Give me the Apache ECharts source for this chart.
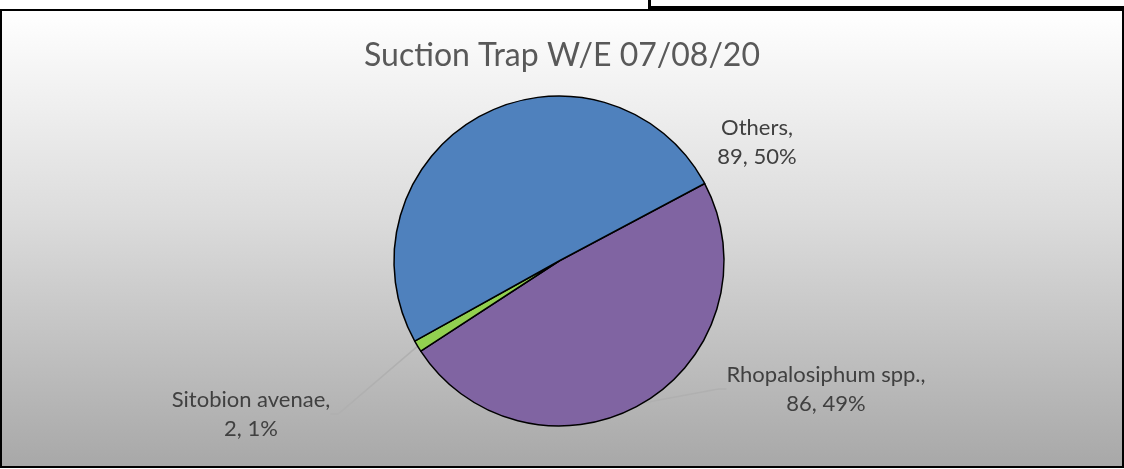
<!DOCTYPE html>
<html>
<head>
<meta charset="utf-8">
<script src="https://cdn.jsdelivr.net/npm/echarts@6/dist/echarts.min.js"></script>
<style>
  html, body { margin:0; padding:0; background:#ffffff; width:1124px; height:469px; overflow:hidden; position:relative; }
  #frame { position:absolute; left:648px; top:-20px; width:520px; height:23px; border:3px solid #000; }
  #chart { position:absolute; left:0px; top:9px; width:1120px; height:455px; border:2px solid #000; }
</style>
</head>
<body>
<div id="frame"></div>
<div id="chart"></div>
<script>
const titleText = 'Suction Trap W/E 07/08/20';
const categories = ['Rhopalosiphum spp.', 'Sitobion avenae', 'Others'];
const counts = [86, 2, 89];
const sliceColors = ['#8064a2', '#92d050', '#4f81bd'];

const chart = echarts.init(document.getElementById('chart'), null, { renderer: 'canvas' });
const FONT = 'Lato';

const labelSpots = {
  0: { x: 824, y: 378 },
  1: { x: 249, y: 403 },
  2: { x: 755, y: 131 }
};

const option = {
  backgroundColor: {
    type: 'linear', x: 0, y: 0, x2: 0, y2: 1,
    colorStops: [
      { offset: 0, color: '#ffffff' },
      { offset: 0.45, color: '#dcdcdc' },
      { offset: 1, color: '#a8a8a8' }
    ]
  },
  animation: false,
  title: {
    text: titleText,
    left: 'center',
    top: 29,
    padding: 0,
    textStyle: { fontFamily: FONT, fontSize: 32, fontWeight: 'normal', color: '#595959' }
  },
  series: [{
    type: 'pie',
    center: [557, 250],
    radius: 165,
    startAngle: 28,
    clockwise: true,
    percentPrecision: 0,
    itemStyle: { borderColor: '#000000', borderWidth: 1.5 },
    data: categories.map((name, i) => ({
      name: name,
      value: counts[i],
      itemStyle: { color: sliceColors[i] },
      labelLine: { show: i !== 2 }
    })),
    label: {
      show: true,
      position: 'outside',
      formatter: '{b},\n{c}, {d}%',
      fontFamily: FONT,
      fontSize: 22,
      lineHeight: 29,
      color: '#404040',
      align: 'center'
    },
    labelLine: {
      show: true,
      length: 10,
      length2: 8,
      lineStyle: { color: '#b0b0b0', width: 1.5 }
    },
    labelLayout: function (params) {
      const p = labelSpots[params.dataIndex];
      return { x: p.x, y: p.y, align: 'center', verticalAlign: 'middle' };
    }
  }]
};
chart.setOption(option);
</script>
</body>
</html>
